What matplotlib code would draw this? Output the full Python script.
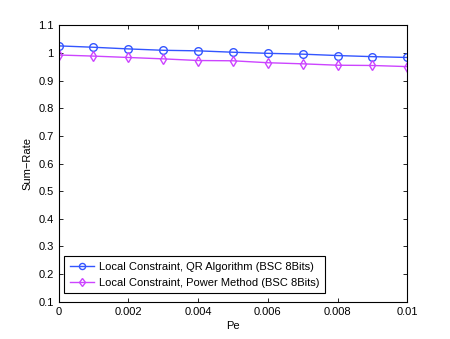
import matplotlib
matplotlib.use("Agg")
import matplotlib.pyplot as plt

pe = [0, 0.001, 0.002, 0.003, 0.004, 0.005, 0.006, 0.007, 0.008, 0.009, 0.01]
qr_rate = [1.026, 1.021, 1.015, 1.010, 1.008, 1.003, 0.999, 0.996, 0.991, 0.987, 0.984]
pm_rate = [0.993, 0.989, 0.984, 0.979, 0.973, 0.972, 0.965, 0.961, 0.956, 0.955, 0.951]

plt.rcParams['font.family'] = ['Liberation Sans', 'DejaVu Sans']
plt.rcParams['font.size'] = 8

fig = plt.figure(figsize=(4.5, 3.39), dpi=100)
ax = fig.add_axes([0.13, 0.11, 0.775, 0.815])

ax.plot(pe, qr_rate, color='#3355ff', marker='o', markersize=5.5, mfc='none',
        mew=1.0, lw=1.0, label='Local Constraint, QR Algorithm (BSC 8Bits)')
ax.plot(pe, pm_rate, color='#cc44ff', marker='d', markersize=5.5, mfc='none',
        mew=1.0, lw=1.0, label='Local Constraint, Power Method (BSC 8Bits)')

ax.set_xlim(0, 0.01)
ax.set_ylim(0.1, 1.1)
ax.set_xticks([0, 0.002, 0.004, 0.006, 0.008, 0.01])
ax.set_xticklabels(['0', '0.002', '0.004', '0.006', '0.008', '0.01'])
ax.set_yticks([0.1, 0.2, 0.3, 0.4, 0.5, 0.6, 0.7, 0.8, 0.9, 1.0, 1.1])
ax.set_yticklabels(['0.1', '0.2', '0.3', '0.4', '0.5', '0.6', '0.7', '0.8', '0.9', '1', '1.1'])
ax.tick_params(direction='in', top=True, right=True, length=3, width=0.6)
for s in ax.spines.values():
    s.set_linewidth(0.8)

ax.set_xlabel('Pe', labelpad=3)
ax.set_ylabel('Sum\u2212Rate')

leg = ax.legend(loc='lower left', bbox_to_anchor=(0.016, 0.03), fancybox=False,
                framealpha=1, edgecolor='black', borderpad=0.5, labelspacing=0.55,
                handlelength=2.2, handletextpad=0.4, borderaxespad=0, markerscale=0.8)
leg.get_frame().set_linewidth(0.8)

fig.savefig('out.png', dpi=100)
